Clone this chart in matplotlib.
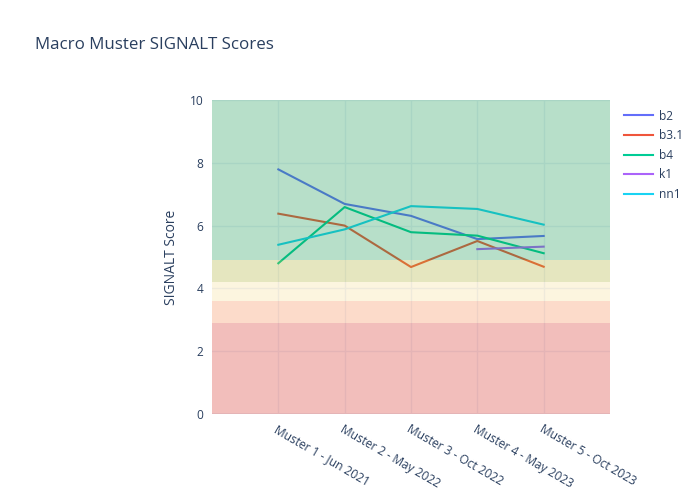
import matplotlib
matplotlib.use("Agg")
import matplotlib.pyplot as plt

plt.rcParams['font.family'] = ['Open Sans', 'DejaVu Sans']

# dados
musters = ["Muster 1 - Jun 2021", "Muster 2 - May 2022", "Muster 3 - Oct 2022",
           "Muster 4 - May 2023", "Muster 5 - Oct 2023"]
b2 = [7.79, 6.69, 6.31, 5.57, 5.67]
b3_1 = [6.38, 6.00, 4.68, 5.51, 4.69]
b4 = [4.80, 6.59, 5.79, 5.68, 5.12]
k1 = [None, None, None, 5.25, 5.33]
nn1 = [5.39, 5.88, 6.62, 6.53, 6.03]

series = [("b2", b2, "#636efa"), ("b3.1", b3_1, "#EF553B"), ("b4", b4, "#00cc96"),
          ("k1", k1, "#ab63fa"), ("nn1", nn1, "#19d3f3")]

# faixas de score (y0, y1, cor)
bands_lo = [0, 2.9, 3.6, 4.2, 4.9]
bands_hi = [2.9, 3.6, 4.2, 4.9, 10]
bands_col = ["#d42a20", "#f88a52", "#f8de98", "#acaf2d", "#12984e"]

text_col = "#2a3f5f"

fig = plt.figure(figsize=(7, 5), dpi=100)
ax = fig.add_axes([212/700, 86/500, 398/700, 314/500])

x = list(range(len(musters)))
for name, vals, col in series:
    xs = [i for i, v in zip(x, vals) if v is not None]
    ys = [v for v in vals if v is not None]
    ax.plot(xs, ys, color=col, lw=1.5, label=name, zorder=3)

for lo, hi, col in zip(bands_lo, bands_hi, bands_col):
    ax.axhspan(lo, hi, color=col, alpha=0.3, lw=0, zorder=4)

ax.set_xlim(-1, 5)
ax.set_ylim(0, 10)
ax.set_yticks([0, 2, 4, 6, 8, 10])
ax.set_xticks(x)
ax.set_xticklabels(musters, rotation=-30, ha='left', va='top', rotation_mode='anchor')
ax.tick_params(length=0, labelsize=8.6, labelcolor=text_col, pad=6)
ax.grid(True, color="#ebf0f8", lw=1, zorder=0)
ax.set_axisbelow(True)
ax.axhline(0, color="#ebf0f8", lw=2, zorder=1)
for s in ax.spines.values():
    s.set_visible(False)

ax.set_ylabel("SIGNALT Score", fontsize=10, color=text_col, labelpad=8)

fig.text(35/700, 1 - 45/500, "Macro Muster SIGNALT Scores", fontsize=12.2,
         color=text_col, va='center', ha='left')

leg = ax.legend(loc='upper left', bbox_to_anchor=(1.01, 1.0), frameon=False,
                fontsize=8.6, labelcolor=text_col, handlelength=2.5,
                handletextpad=0.5, labelspacing=0.55, borderaxespad=0.4)

plt.savefig("out.png", dpi=100)
